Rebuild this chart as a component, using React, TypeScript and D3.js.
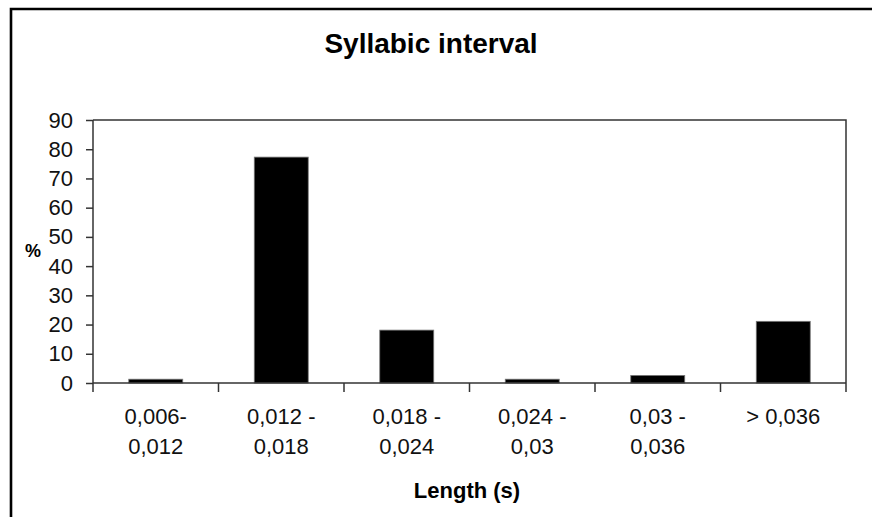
import React, { useRef, useEffect } from 'react';
import * as d3 from 'd3';

// bin labels, split in two lines as in the picture
const categories = ['0,006-|0,012', '0,012 -|0,018', '0,018 -|0,024', '0,024 -|0,03', '0,03 -|0,036', '> 0,036'];
const percents = [1.3, 77.3, 18.1, 1.3, 2.6, 21.1];
const yTicks = [0, 10, 20, 30, 40, 50, 60, 70, 80, 90];

const title = 'Syllabic interval';
const xTitle = 'Length (s)';
const yTitle = '%';

const App = () => {
    const svgRef = useRef(null);

    useEffect(() => {
        const svg = d3.select(svgRef.current);
        svg.selectAll('*').remove();
        const width = 872;
        const height = 517;
        const margin = { top: 120, right: 26, bottom: 134, left: 93 };
        const font = '"Liberation Sans", Arial, sans-serif';

        svg.attr('viewBox', [0, 0, width, height]);

        svg.append('rect').attr('width', width).attr('height', height).attr('fill', '#fff');

        // outer chart frame (only top and left are visible)
        svg.append('path')
            .attr('d', `M11,${height + 5}V9H${width + 5}`)
            .attr('fill', 'none')
            .attr('stroke', '#000')
            .attr('stroke-width', 2.6);

        const x = d3.scaleBand()
            .domain(categories)
            .range([margin.left, width - margin.right])
            .paddingInner(0.57)
            .paddingOuter(0.285);

        const y = d3.scaleLinear()
            .domain([0, 90])
            .range([height - margin.bottom, margin.top]);

        const x0 = margin.left, x1 = width - margin.right;
        const y0 = y(0), y1 = y(90);

        // plot frame: top and right
        svg.append('path')
            .attr('d', `M${x0},${y1}H${x1}V${y0 + 9}`)
            .attr('fill', 'none')
            .attr('stroke', '#333')
            .attr('stroke-width', 1.5);

        svg.append('g')
            .selectAll('rect')
            .data(percents)
            .join('rect')
            .attr('x', (d, i) => x(categories[i]))
            .attr('y', d => y(d))
            .attr('width', x.bandwidth())
            .attr('height', d => y0 - y(d))
            .attr('fill', '#000')
            .attr('stroke', '#777')
            .attr('stroke-width', 0.8);

        // y axis
        const yAxis = svg.append('g')
            .attr('transform', `translate(${x0},0)`)
            .call(d3.axisLeft(y).tickValues(yTicks).tickSize(7).tickPadding(13))
            .call(g => g.select('.domain').attr('stroke', '#333').attr('stroke-width', 1.5).attr('d', `M0,${y1}V${y0}`));
        yAxis.selectAll('.tick line').attr('stroke', '#333').attr('stroke-width', 1.5);
        yAxis.selectAll('text')
            .attr('font-family', font)
            .attr('font-size', 22)
            .attr('fill', '#111');

        // x axis: ticks on category boundaries
        const bounds = d3.range(categories.length + 1).map(i => x0 + i * x.step());
        svg.append('line')
            .attr('x1', x0).attr('x2', x1)
            .attr('y1', y0).attr('y2', y0)
            .attr('stroke', '#333').attr('stroke-width', 1.5);
        svg.append('g')
            .selectAll('line')
            .data(bounds.slice(0, -1))
            .join('line')
            .attr('x1', d => d).attr('x2', d => d)
            .attr('y1', y0).attr('y2', y0 + 9)
            .attr('stroke', '#333').attr('stroke-width', 1.5);

        svg.append('g')
            .selectAll('text')
            .data(categories)
            .join('text')
            .attr('x', d => x(d) + x.bandwidth() / 2)
            .attr('y', y0 + 41)
            .attr('text-anchor', 'middle')
            .attr('font-family', font)
            .attr('font-size', 22)
            .attr('fill', '#111')
            .selectAll('tspan')
            .data(d => d.split('|').map(s => ({ s, cx: x(d) + x.bandwidth() / 2 })))
            .join('tspan')
            .attr('x', d => d.cx)
            .attr('dy', (d, i) => i === 0 ? 0 : 30)
            .text(d => d.s);

        svg.append('text')
            .attr('x', 431)
            .attr('y', 53)
            .attr('text-anchor', 'middle')
            .attr('font-family', font)
            .attr('font-weight', 'bold')
            .attr('font-size', 28)
            .text(title);

        svg.append('text')
            .attr('x', 467)
            .attr('y', 498)
            .attr('text-anchor', 'middle')
            .attr('font-family', font)
            .attr('font-weight', 'bold')
            .attr('font-size', 22)
            .text(xTitle);

        svg.append('text')
            .attr('x', 33)
            .attr('y', 257)
            .attr('text-anchor', 'middle')
            .attr('font-family', font)
            .attr('font-weight', 'bold')
            .attr('font-size', 18)
            .text(yTitle);
    }, []);

    return <svg ref={svgRef} width={872} height={517} style={{ position: 'absolute', left: 0, top: 0 }}></svg>;
};

export default App;
